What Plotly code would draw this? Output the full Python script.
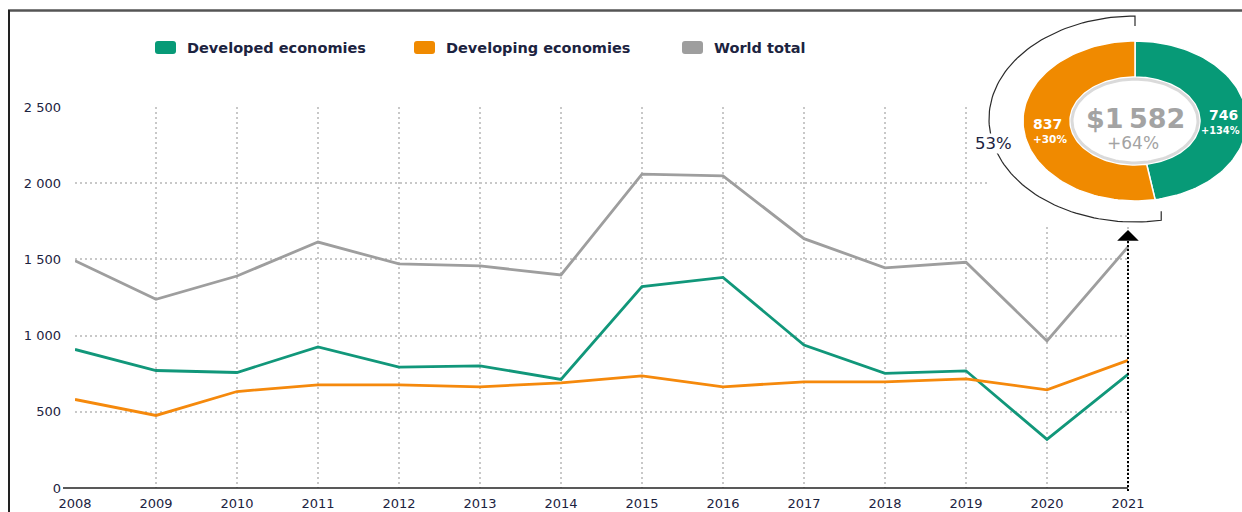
import math
import plotly.graph_objects as go

# ---------------- data ----------------
years = list(range(2008, 2022))
developed = [909, 771, 758, 926, 793, 802, 712, 1321, 1382, 938, 752, 769, 319, 746]
developing = [581, 476, 633, 677, 677, 664, 690, 736, 664, 697, 697, 716, 644, 837]
world = [1491, 1238, 1391, 1614, 1470, 1457, 1398, 2059, 2048, 1636, 1445, 1481, 965, 1582]
series_names = ["Developed economies", "Developing economies", "World total"]
y_tick_values = [0, 500, 1000, 1500, 2000, 2500]

# ---------------- style ----------------
W, H = 1242, 512
GREEN = "#11977a"
ORANGE = "#f5890c"
GREY = "#9e9e9e"
DONUT_GREEN = "#079a77"
DONUT_ORANGE = "#f08a00"
INK = "#1c2340"
FONT = "DejaVu Sans"


def px(x):
    return x / W


def py(y):
    return 1 - y / H


fig = go.Figure()

# main lines
for name, vals, col in [(series_names[0], developed, GREEN),
                        (series_names[1], developing, ORANGE),
                        (series_names[2], world, GREY)]:
    fig.add_trace(go.Scatter(x=years, y=vals, mode="lines", name=name,
                             line=dict(color=col, width=2.8),
                             xaxis="x", yaxis="y", hoverinfo="skip"))

# ---------------- donut (own axes, 1 unit = 1 px) ----------------
fig.add_trace(go.Scatter(x=[-300, 300, 300, -300, -300], y=[-300, -300, 300, 300, -300],
                         mode="lines", fill="toself", fillcolor="white",
                         line=dict(width=0, color="white"),
                         xaxis="x2", yaxis="y2", hoverinfo="skip"))

dev21, dvg21, wld21 = developed[-1], developing[-1], world[-1]
total21 = dev21 + dvg21
frac_dev = dev21 / total21
split = 2 * math.pi * frac_dev
RXO, RYO, RXI, RYI = 112, 80, 65, 44


def ring(a0, a1, n=90):
    ts = [a0 + (a1 - a0) * i / n for i in range(n + 1)]
    xs = [RXO * math.sin(t) for t in ts] + [RXI * math.sin(t) for t in reversed(ts)]
    ys = [RYO * math.cos(t) for t in ts] + [RYI * math.cos(t) for t in reversed(ts)]
    return xs + [xs[0]], ys + [ys[0]]


for a0, a1, col in [(0, split, DONUT_GREEN), (split, 2 * math.pi, DONUT_ORANGE)]:
    xs, ys = ring(a0, a1)
    fig.add_trace(go.Scatter(x=xs, y=ys, mode="lines", fill="toself", fillcolor=col,
                             line=dict(color="white", width=1.5),
                             xaxis="x2", yaxis="y2", hoverinfo="skip"))

# hole ring
ts = [2 * math.pi * i / 120 for i in range(121)]
fig.add_trace(go.Scatter(x=[(RXI - 2) * math.sin(t) for t in ts],
                         y=[(RYI - 2) * math.cos(t) for t in ts],
                         mode="lines", line=dict(color="#dadada", width=3),
                         xaxis="x2", yaxis="y2", hoverinfo="skip"))

# bracket arc around developing share
ARX, ARY, ACY = 146, 103, 2
n = 100
arc_t = [2 * math.pi - (2 * math.pi - split) * i / n for i in range(n + 1)]
ax_ = [ARX * math.sin(t) for t in arc_t]
ay_ = [ACY + ARY * math.cos(t) for t in arc_t]
ax_ = [ax_[0]] + ax_ + [ax_[-1]]
ay_ = [ay_[0] - 10] + ay_ + [ay_[-1] + 9]
fig.add_trace(go.Scatter(x=ax_, y=ay_, mode="lines",
                         line=dict(color="#2a2a2a", width=1.2),
                         xaxis="x2", yaxis="y2", hoverinfo="skip"))

# ---------------- axes ----------------
fig.update_layout(
    width=W, height=H,
    margin=dict(l=0, r=0, t=0, b=0, autoexpand=False),
    paper_bgcolor="white", plot_bgcolor="white",
    showlegend=False,
    separators=". ",
    font=dict(family=FONT, color=INK),
    xaxis=dict(domain=[px(75), px(1129.6)], range=[2008, 2021.02],
               tickvals=years, ticktext=[str(y) for y in years],
               showgrid=True, gridcolor="#c8c8c8", gridwidth=1.5, griddash="2px,3px",
               zeroline=False, showline=False, ticks="", automargin=False,
               tickfont=dict(family=FONT, size=13, color=INK),
               ticklabelstandoff=6, fixedrange=True),
    yaxis=dict(domain=[py(488), py(107)], range=[0, 2500],
               tickvals=y_tick_values, separatethousands=True,
               showgrid=True, gridcolor="#c8c8c8", gridwidth=1.5, griddash="2px,3px",
               zeroline=False, showline=False, ticks="", automargin=False,
               tickfont=dict(family=FONT, size=13, color=INK),
               ticklabelstandoff=13, fixedrange=True),
    xaxis2=dict(domain=[px(987), 1.0], range=[-148, 107], visible=False,
                fixedrange=True, anchor="y2", automargin=False),
    yaxis2=dict(domain=[py(226), py(12)], range=[-105, 109], visible=False,
                fixedrange=True, anchor="x2", automargin=False),
)

shapes = []
# frame
shapes.append(dict(type="line", xref="paper", yref="paper", x0=px(8), x1=1.0,
                   y0=py(10.5), y1=py(10.5), line=dict(color="#555555", width=2.5)))
shapes.append(dict(type="line", xref="paper", yref="paper", x0=px(9), x1=px(9),
                   y0=py(10), y1=0, line=dict(color="#222222", width=2)))
# baseline
shapes.append(dict(type="line", xref="paper", yref="paper", x0=px(63), x1=px(1128),
                   y0=py(488), y1=py(488), line=dict(color="#222222", width=1.5)))
# 2021 pointer line
shapes.append(dict(type="line", xref="x", yref="paper", x0=years[-1], x1=years[-1],
                   y0=py(491), y1=py(238), line=dict(color="black", width=2, dash="2px,2px")))


def rrect(x0, y0, x1, y1, r):
    P = lambda x, y: f"{px(x)},{py(y)}"
    return (f"M{P(x0 + r, y0)} L{P(x1 - r, y0)} Q{P(x1, y0)} {P(x1, y0 + r)} "
            f"L{P(x1, y1 - r)} Q{P(x1, y1)} {P(x1 - r, y1)} L{P(x0 + r, y1)} "
            f"Q{P(x0, y1)} {P(x0, y1 - r)} L{P(x0, y0 + r)} Q{P(x0, y0)} {P(x0 + r, y0)} Z")


annotations = []
legend_sq_x = [155, 414, 682]
for name, col, lx in zip(series_names, [DONUT_GREEN, DONUT_ORANGE, GREY], legend_sq_x):
    shapes.append(dict(type="path", xref="paper", yref="paper", path=rrect(lx, 41, lx + 21, 54, 3),
                       fillcolor=col, line=dict(width=0)))
    annotations.append(dict(xref="paper", yref="paper", x=px(lx + 30), y=py(47.5),
                            xanchor="left", yanchor="middle", showarrow=False, text=name,
                            font=dict(family=FONT, size=14.5, color=INK, weight="bold")))

# triangle pointer
annotations.append(dict(xref="x", yref="paper", x=years[-1], y=py(230), ax=0, ay=9,
                        text="", showarrow=True, arrowhead=1, arrowsize=1.8,
                        arrowwidth=2, arrowcolor="black"))

# donut texts
pct = lambda a, b: f"+{round((a / b - 1) * 100)}%"
annotations += [
    dict(xref="x2", yref="y2", x=0, y=3, text=f"${wld21 // 1000}\u2009{wld21 % 1000:03d}",
         showarrow=False, font=dict(family=FONT, size=27, color="#a3a3a3", weight="bold")),
    dict(xref="x2", yref="y2", x=-2, y=-22, text=pct(wld21, world[-2]),
         showarrow=False, font=dict(family=FONT, size=17, color="#a3a3a3")),
    dict(xref="x2", yref="y2", x=-88, y=-3, text=str(dvg21),
         showarrow=False, font=dict(family=FONT, size=14, color="white", weight="bold")),
    dict(xref="x2", yref="y2", x=-85, y=-18, text=pct(dvg21, developing[-2]),
         showarrow=False, font=dict(family=FONT, size=10.5, color="white", weight="bold")),
    dict(xref="x2", yref="y2", x=88, y=6, text=str(dev21),
         showarrow=False, font=dict(family=FONT, size=14, color="white", weight="bold")),
    dict(xref="x2", yref="y2", x=105.5, y=-9, xanchor="right", text=pct(dev21, developed[-2]),
         showarrow=False, borderpad=0,
         font=dict(family=FONT, size=9.8, color="white", weight="bold")),
    dict(xref="x2", yref="y2", x=-141.5, y=-22, text=f"{round(dvg21 / total21 * 100)}%",
         showarrow=False, bgcolor="white", borderpad=0,
         font=dict(family=FONT, size=16.5, color=INK)),
]

fig.update_layout(shapes=shapes, annotations=annotations)
fig.write_html(
    "out.html",
    post_script="document.body.style.margin='0px';document.body.style.padding='0px';"
                "document.documentElement.style.overflow='hidden';",
)
